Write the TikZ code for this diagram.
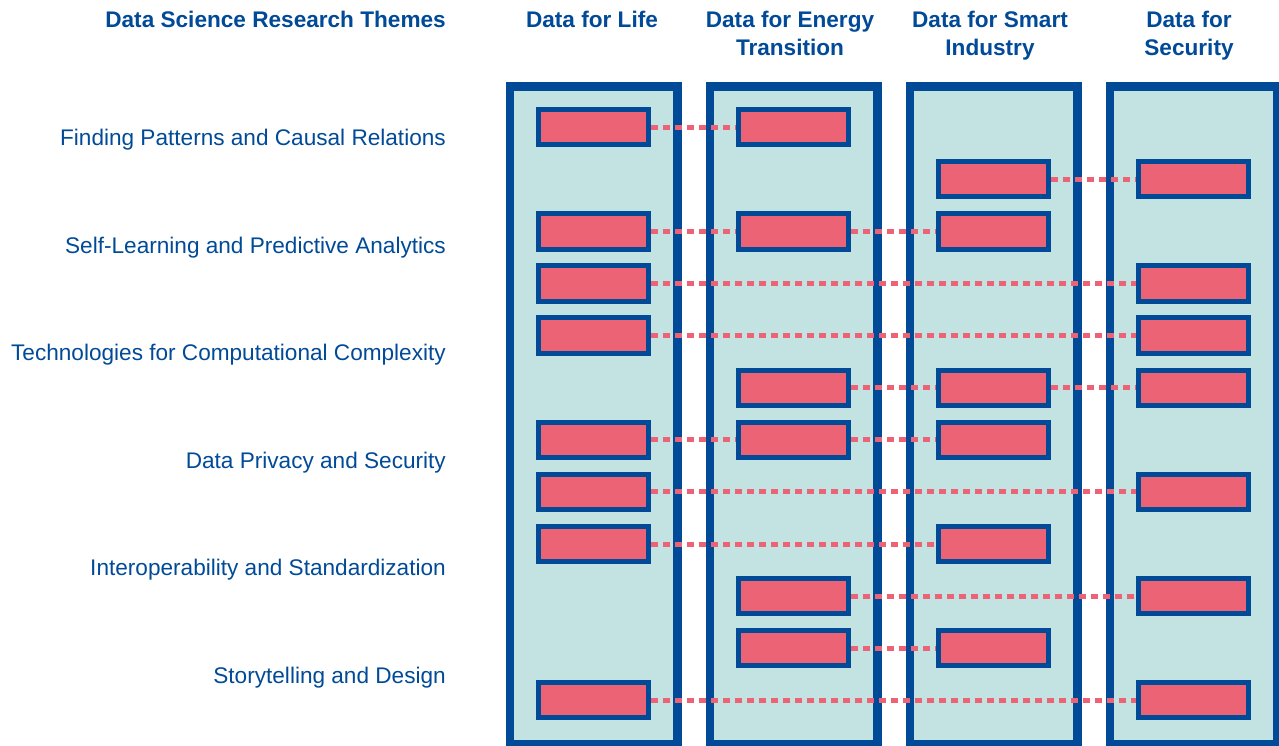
\documentclass[tikz,border=0pt]{standalone}
\usepackage{fontspec}
\setmainfont{Liberation Sans}
\usetikzlibrary{positioning}
\definecolor{dsblue}{RGB}{0,74,152}
\definecolor{dsteal}{RGB}{194,227,225}
\definecolor{dspink}{RGB}{236,99,118}
\pgfdeclarelayer{back}
\pgfdeclarelayer{mid}
\pgfsetlayers{back,mid,main}
\tikzset{
  colbox/.style={draw=dsblue, fill=dsteal, line width=8.3pt, minimum width=167.7pt, minimum height=657.7pt, inner sep=0pt},
  redbox/.style={draw=dsblue, fill=dspink, line width=5pt, minimum width=110.6pt, minimum height=35.3pt, inner sep=0pt},
  link/.style={draw=dspink, line width=5pt, dash pattern=on 7pt off 5pt},
  colhead/.style={text=dsblue, font=\fontsize{22.6}{27.7}\selectfont\bfseries, align=center, inner sep=0pt, anchor=north},
  theme/.style={text=dsblue, font=\fontsize{22.6}{26}\selectfont, inner sep=0pt, anchor=base east},
}
\begin{document}
\begin{tikzpicture}[x=1pt,y=-1pt]
\useasboundingbox (0,0) rectangle (1279,746);
% headers
\node[colhead, anchor=base east] (hthemes) at (446,27.3) {Data Science Research Themes};
\node[colhead] (h1) at (592,11) {Data for Life};
\node[colhead] (h2) at (790,11) {Data for Energy\\Transition};
\node[colhead] (h3) at (990,11) {Data for Smart\\Industry};
\node[colhead] (h4) at (1189,11) {Data for\\Security};
% theme labels
\node[theme] (t1) at (446,145.7) {Finding Patterns and Causal Relations};
\node[theme] (t2) at (446,253.3) {Self-Learning and Predictive Analytics};
\node[theme] (t3) at (446,360.7) {Technologies for Computational Complexity};
\node[theme] (t4) at (446,468.3) {Data Privacy and Security};
\node[theme] (t5) at (446,575) {Interoperability and Standardization};
\node[theme] (t6) at (446,683.3) {Storytelling and Design};
% columns
\begin{pgfonlayer}{back}
\foreach \k in {0,1,2,3} {
  \node[colbox] (col\k) at (593.7+200*\k,415.35) {};
}
\end{pgfonlayer}
% red boxes: row / list of columns
\foreach \r/\cols in {1/{1,2},2/{3,4},3/{1,2,3},4/{1,4},5/{1,4},6/{2,3,4},7/{1,2,3},8/{1,4},9/{1,3},10/{2,4},11/{2,3},12/{1,4}} {
  \foreach \c in \cols {
    \node[redbox] (b\r-\c) at (393.5+200*\c,127.2+52.1*\r-52.1) {};
  }
}
% links
\begin{pgfonlayer}{mid}
\draw[link] (b1-1.east) -- (b1-2.west);
\draw[link] (b2-3.east) -- (b2-4.west);
\draw[link] (b3-1.east) -- (b3-2.west);
\draw[link] (b3-2.east) -- (b3-3.west);
\draw[link] (b4-1.east) -- (b4-4.west);
\draw[link] (b5-1.east) -- (b5-4.west);
\draw[link] (b6-2.east) -- (b6-3.west);
\draw[link] (b6-3.east) -- (b6-4.west);
\draw[link] (b7-1.east) -- (b7-2.west);
\draw[link] (b7-2.east) -- (b7-3.west);
\draw[link] (b8-1.east) -- (b8-4.west);
\draw[link] (b9-1.east) -- (b9-3.west);
\draw[link] (b10-2.east) -- (b10-4.west);
\draw[link] (b11-2.east) -- (b11-3.west);
\draw[link] (b12-1.east) -- (b12-4.west);
\end{pgfonlayer}
\end{tikzpicture}
\end{document}
